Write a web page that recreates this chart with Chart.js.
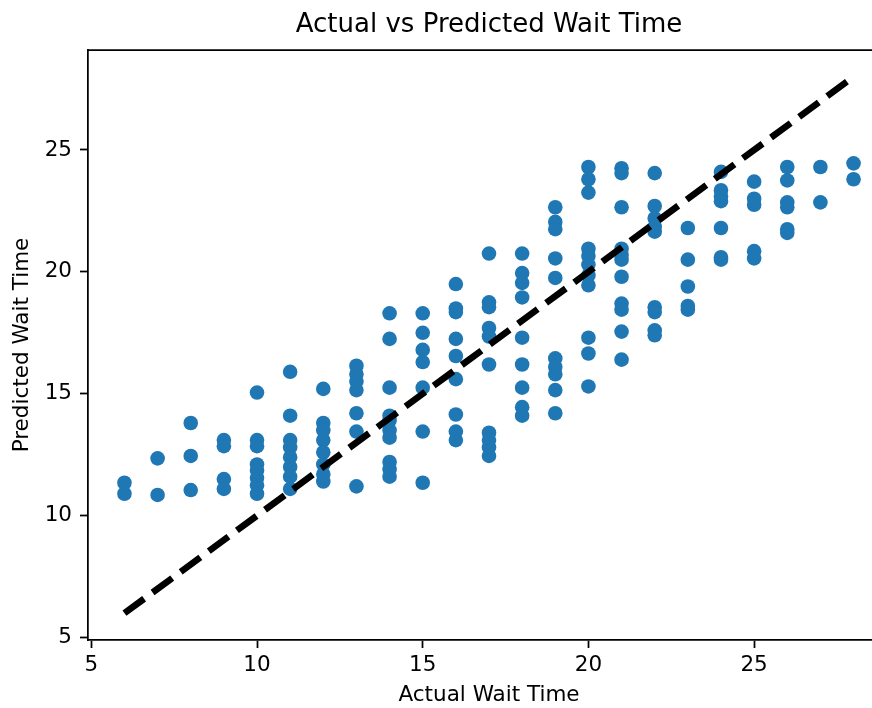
<!DOCTYPE html>
<html>
<head>
<meta charset="utf-8">
<script src="https://cdn.jsdelivr.net/npm/chart.js@4.4.1/dist/chart.umd.min.js"></script>
<style>
html,body{margin:0;padding:0;overflow:hidden;background:#fff;width:872px;height:708px}
#wrap{width:872px;height:708px;overflow:hidden}
</style>
</head>
<body>
<div id="wrap"><canvas id="c" width="900" height="708"></canvas></div>
<script>
// Actual wait time (x) and predicted wait time (y), point by point
const actualWait = [
  6,6,
  7,7,
  8,8,8,
  9,9,9,9,
  10,10,10,10,10,10,10,10,
  11,11,11,11,11,11,11,11,
  12,12,12,12,12,12,12,12,
  13,13,13,13,13,13,13,
  14,14,14,14,14,14,14,14,14,14,
  15,15,15,15,15,15,15,
  16,16,16,16,16,16,16,16,16,
  17,17,17,17,17,17,17,17,17,17,
  18,18,18,18,18,18,18,18,18,
  19,19,19,19,19,19,19,19,19,19,
  20,20,20,20,20,20,20,20,20,20,20,
  21,21,21,21,21,21,21,21,21,21,21,
  22,22,22,22,22,22,22,22,22,
  23,23,23,23,23,
  24,24,24,24,24,24,24,
  25,25,25,25,25,
  26,26,26,26,26,26,
  27,27,
  28,28
];
const predictedWait = [
  11.35,10.9,
  12.35,10.85,
  13.8,12.45,11.05,
  13.1,12.85,11.5,11.1,
  15.05,13.1,12.85,12.1,11.85,11.55,11.25,10.9,
  15.9,14.1,13.1,12.8,12.4,12.0,11.6,11.1,
  15.2,13.8,13.5,13.1,12.6,12.1,11.7,11.4,
  16.15,15.8,15.5,15.15,14.2,13.45,11.2,
  18.3,17.25,15.25,14.1,13.9,13.5,13.2,12.2,11.9,11.6,
  18.3,17.5,16.8,16.3,15.25,13.45,11.35,
  19.5,18.5,18.35,17.25,16.55,15.6,14.15,13.45,13.1,
  20.75,18.75,18.55,17.7,17.35,16.2,13.4,13.1,12.8,12.45,
  20.75,19.95,19.55,18.95,17.3,16.2,15.25,14.45,14.1,
  22.65,22.05,21.75,20.55,19.75,16.45,16.1,15.8,15.15,14.2,
  24.3,23.8,23.25,20.95,20.65,20.3,19.85,19.45,17.3,16.65,15.3,
  24.25,24.05,22.65,20.95,20.7,20.5,19.8,18.7,18.45,17.55,16.4,
  24.05,22.7,22.2,21.85,21.65,18.55,18.35,17.6,17.4,
  21.8,20.5,19.4,18.6,18.45,
  24.1,23.35,23.1,22.9,21.8,20.6,20.5,
  23.7,23.0,22.75,20.85,20.55,
  24.3,23.75,22.85,22.65,21.75,21.6,
  24.3,22.85,
  24.45,23.8
];
// Ideal-fit reference line end points (y = x)
const idealLine = [6, 28];
const xTickValues = [5, 10, 15, 20, 25];
const yTickValues = [5, 10, 15, 20, 25];
const axisRange = [4.9, 29.1];

const FONT = 'DejaVu Sans';
const points = actualWait.map((a, i) => ({x: a, y: predictedWait[i]}));
const linePts = idealLine.map(v => ({x: v, y: v}));

// top spine (the right spine lies outside the visible area)
const frame = {
  id: 'frame',
  afterDatasetsDraw(chart) {
    const {ctx, chartArea: a} = chart;
    ctx.save();
    ctx.strokeStyle = '#000';
    ctx.lineWidth = 1.75;
    ctx.beginPath();
    ctx.moveTo(a.left, a.top);
    ctx.lineTo(a.right, a.top);
    ctx.stroke();
    ctx.restore();
  }
};

const tickFont = {family: FONT, size: 21.5};
const labelFont = {family: FONT, size: 21.5};

new Chart(document.getElementById('c'), {
  type: 'scatter',
  data: {
    datasets: [
      {
        type: 'line',
        data: linePts,
        borderColor: '#000',
        borderWidth: 6.6,
        borderDash: [24.4, 10.5],
        borderCapStyle: 'butt',
        pointRadius: 0,
        fill: false,
        order: 0
      },
      {
        type: 'scatter',
        data: points,
        backgroundColor: '#1f77b4',
        borderWidth: 0,
        pointRadius: 7.3,
        pointHoverRadius: 7.3,
        order: 1
      }
    ]
  },
  options: {
    responsive: false,
    animation: false,
    devicePixelRatio: 1,
    layout: {padding: {right: 10}},
    plugins: {
      legend: {display: false},
      tooltip: {enabled: false},
      title: {
        display: true,
        text: 'Actual vs Predicted Wait Time',
        fullSize: false,
        color: '#000',
        font: {family: FONT, size: 26, weight: 'normal'},
        padding: {top: 10, bottom: 8.8}
      }
    },
    scales: {
      x: {
        type: 'linear',
        position: 'bottom',
        min: axisRange[0],
        max: axisRange[1],
        afterBuildTicks: s => { s.ticks = xTickValues.map(v => ({value: v})); },
        afterFit: s => { s.height = 68; },
        grid: {drawOnChartArea: false, drawTicks: true, tickLength: 8, tickColor: '#000', tickWidth: 1.75},
        border: {display: true, color: '#000', width: 1.75},
        ticks: {font: tickFont, color: '#000', padding: 5, maxRotation: 0, autoSkip: false},
        title: {display: true, text: 'Actual Wait Time', color: '#000', font: labelFont, padding: {top: 0, bottom: 0}}
      },
      y: {
        type: 'linear',
        position: 'left',
        min: axisRange[0],
        max: axisRange[1],
        afterBuildTicks: s => { s.ticks = yTickValues.map(v => ({value: v})); },
        afterFit: s => { s.width = 88; },
        grid: {drawOnChartArea: false, drawTicks: true, tickLength: 8, tickColor: '#000', tickWidth: 1.75},
        border: {display: true, color: '#000', width: 1.75},
        ticks: {font: tickFont, color: '#000', padding: 8, autoSkip: false},
        title: {display: true, text: 'Predicted Wait Time', color: '#000', font: labelFont, padding: {top: 9.6, bottom: 0}}
      }
    }
  },
  plugins: [frame]
});
</script>
</body>
</html>
